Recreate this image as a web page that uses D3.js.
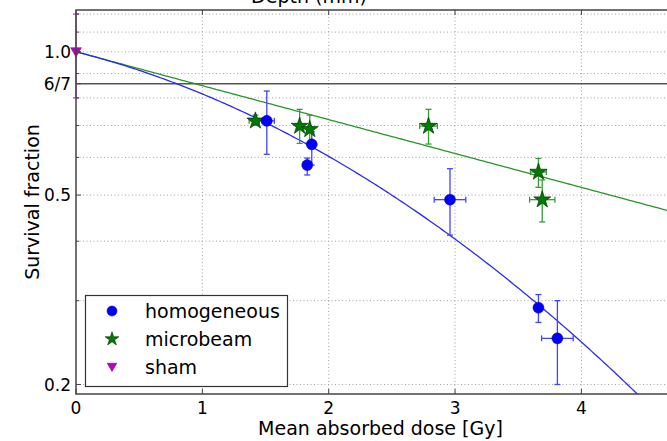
<!DOCTYPE html>
<html>
<head>
<meta charset="utf-8">
<script src="https://cdn.jsdelivr.net/npm/d3@7"></script>
<style>
  body { margin: 0; background: #fff; }
  svg { display: block; font-family: "DejaVu Sans", sans-serif; }
</style>
</head>
<body>
<svg width="667" height="441"></svg>
<script>
// homogeneous irradiation: dose, survival, errors
var homDose = [1.51, 1.866, 1.83, 2.96, 3.66, 3.81];
var homSurv = [0.716, 0.639, 0.578, 0.489, 0.290, 0.250];
var homYLo = [0.609, 0.578, 0.551, 0.412, 0.270, 0.200];
var homYHi = [0.827, 0.679, 0.598, 0.568, 0.309, 0.300];
var homXErr = [0.06, 0.02, 0.02, 0.125, 0.01, 0.125];

// microbeam irradiation
var mbDose = [1.42, 1.77, 1.85, 2.79, 3.66, 3.69];
var mbSurv = [0.716, 0.698, 0.687, 0.698, 0.559, 0.489];
var mbYLo = [0.701, 0.642, 0.642, 0.640, 0.519, 0.439];
var mbYHi = [0.736, 0.757, 0.736, 0.757, 0.597, 0.538];
var mbXErr = [0.05, 0.02, 0.02, 0.07, 0.063, 0.1];

// sham
var shamDose = [0];
var shamSurv = [1.0];
var shamYLo = [0.8];
var shamYHi = [1.2];

// fit parameters: S = exp(-a D - b D^2)
var homFit = { a: 0.155, b: 0.049 };
var mbFit = { a: 0.164, b: 0 };

var xTicks = [0, 1, 2, 3, 4];
var yTicks = [0.2, 0.5, 1.0];
var yTickLabels = ["0.2", "0.5", "1.0"];
var yMinor = [0.3, 0.4, 0.6, 0.7, 0.8, 0.9, 1.1, 1.2];
var refLevel = 6 / 7;

var svg = d3.select("svg");
var pLeft = 76, pRight = 685, pTop = 10, pBottom = 394;

var x = d3.scaleLinear().domain([0, 4.82]).range([pLeft, pRight]);
var y = d3.scaleLog().domain([0.191, 1.224]).range([pBottom, pTop]);

svg.append("defs").append("clipPath").attr("id", "plot")
  .append("rect").attr("x", pLeft).attr("y", pTop)
  .attr("width", pRight - pLeft).attr("height", pBottom - pTop);

// grid lines
var grid = svg.append("g").attr("stroke", "#a0a0a0").attr("stroke-width", 1)
  .attr("stroke-dasharray", "1,2.5");
grid.selectAll(".gx").data(xTicks.slice(1)).enter().append("line")
  .attr("x1", d => x(d)).attr("x2", d => x(d)).attr("y1", pTop).attr("y2", pBottom);
grid.selectAll(".gy").data(yTicks.concat(yMinor)).enter().append("line")
  .attr("x1", pLeft).attr("x2", pRight).attr("y1", d => y(d)).attr("y2", d => y(d));

// 6/7 reference line
svg.append("line").attr("x1", pLeft).attr("x2", pRight)
  .attr("y1", y(refLevel)).attr("y2", y(refLevel))
  .attr("stroke", "#555").attr("stroke-width", 1.5);

var plot = svg.append("g").attr("clip-path", "url(#plot)");

// fit curves
function fitLine(p) {
  var pts = d3.range(0, 4.821, 0.02).map(function (d) {
    return [d, Math.exp(-p.a * d - p.b * d * d)];
  });
  return d3.line().x(d => x(d[0])).y(d => y(d[1]))(pts);
}
plot.append("path").attr("d", fitLine(mbFit)).attr("fill", "none")
  .attr("stroke", "#2a962a").attr("stroke-width", 1.3);
plot.append("path").attr("d", fitLine(homFit)).attr("fill", "none")
  .attr("stroke", "#2b2bf5").attr("stroke-width", 1.3);

// error bars
function errorBars(g, xs, ys, lo, hi, xe, color) {
  var cap = 3;
  xs.forEach(function (d, i) {
    var cx = x(d), cy = y(ys[i]);
    g.append("line").attr("x1", cx).attr("x2", cx).attr("y1", y(lo[i])).attr("y2", y(hi[i]))
      .attr("stroke", color).attr("stroke-width", 1.3);
    [lo[i], hi[i]].forEach(function (v) {
      g.append("line").attr("x1", cx - cap).attr("x2", cx + cap).attr("y1", y(v)).attr("y2", y(v))
        .attr("stroke", color).attr("stroke-width", 1.3);
    });
    if (xe) {
      var x0 = x(d - xe[i]), x1 = x(d + xe[i]);
      g.append("line").attr("x1", x0).attr("x2", x1).attr("y1", cy).attr("y2", cy)
        .attr("stroke", color).attr("stroke-width", 1.3);
      [x0, x1].forEach(function (v) {
        g.append("line").attr("x1", v).attr("x2", v).attr("y1", cy - cap).attr("y2", cy + cap)
          .attr("stroke", color).attr("stroke-width", 1.3);
      });
    }
  });
}
errorBars(plot, mbDose, mbSurv, mbYLo, mbYHi, mbXErr, "#3a9a3a");
errorBars(plot, homDose, homSurv, homYLo, homYHi, homXErr, "#4444ff");
errorBars(svg.append("g"), shamDose, shamSurv, shamYLo, shamYHi, null, "#c040c0");

// markers
var star = d3.symbol().type(d3.symbolStar).size(90);
var tri = d3.symbol().type(d3.symbolTriangle).size(50);

plot.selectAll(".mb").data(mbDose).enter().append("path")
  .attr("d", star).attr("transform", (d, i) => "translate(" + x(d) + "," + y(mbSurv[i]) + ")")
  .attr("fill", "#007a00").attr("stroke", "#003300").attr("stroke-width", 0.7);
plot.selectAll(".hom").data(homDose).enter().append("circle")
  .attr("cx", d => x(d)).attr("cy", (d, i) => y(homSurv[i])).attr("r", 5.5)
  .attr("fill", "#0000ff").attr("stroke", "#000080").attr("stroke-width", 0.5);
svg.selectAll(".sham").data(shamDose).enter().append("path")
  .attr("d", tri).attr("transform", (d, i) => "translate(" + x(d) + "," + (y(shamSurv[i]) - 1) + ") rotate(180)")
  .attr("fill", "#bf00bf").attr("stroke", "#600060").attr("stroke-width", 0.5);

// frame
svg.append("rect").attr("x", pLeft).attr("y", pTop).attr("width", pRight - pLeft).attr("height", pBottom - pTop)
  .attr("fill", "none").attr("stroke", "#444").attr("stroke-width", 1.5);

// ticks (inward)
var ticks = svg.append("g").attr("stroke", "#444").attr("stroke-width", 1);
xTicks.forEach(function (d) {
  ticks.append("line").attr("x1", x(d)).attr("x2", x(d)).attr("y1", pBottom).attr("y2", pBottom - 5);
  ticks.append("line").attr("x1", x(d)).attr("x2", x(d)).attr("y1", pTop).attr("y2", pTop + 5);
});
yTicks.concat([refLevel]).forEach(function (d) {
  ticks.append("line").attr("x1", pLeft).attr("x2", pLeft + 5).attr("y1", y(d)).attr("y2", y(d));
});
yMinor.forEach(function (d) {
  ticks.append("line").attr("x1", pLeft).attr("x2", pLeft + 3).attr("y1", y(d)).attr("y2", y(d));
});

// tick labels
svg.selectAll(".xl").data(xTicks).enter().append("text")
  .attr("x", d => x(d)).attr("y", 414).attr("text-anchor", "middle")
  .attr("font-size", 17).text(d => d);
svg.selectAll(".yl").data(yTicks).enter().append("text")
  .attr("x", 71).attr("y", d => y(d)).attr("dy", "0.36em").attr("text-anchor", "end")
  .attr("font-size", 17).text((d, i) => yTickLabels[i]);
svg.append("text").attr("x", 71).attr("y", y(refLevel)).attr("dy", "0.36em")
  .attr("text-anchor", "end").attr("font-size", 17).text("6/7");

// axis labels
svg.append("text").attr("x", 380.5).attr("y", 435).attr("text-anchor", "middle")
  .attr("font-size", 19).text("Mean absorbed dose [Gy]");
svg.append("text").attr("transform", "translate(39,202) rotate(-90)")
  .attr("text-anchor", "middle").attr("font-size", 19).text("Survival fraction");
svg.append("text").attr("x", 309).attr("y", 3).attr("text-anchor", "middle")
  .attr("font-size", 19).text("Depth (mm)");

// legend
var lg = svg.append("g");
lg.append("rect").attr("x", 85.5).attr("y", 295.5).attr("width", 202).attr("height", 91)
  .attr("fill", "#fff").attr("stroke", "#333").attr("stroke-width", 1.2);
var legendNames = ["homogeneous", "microbeam", "sham"];
var legendY = [311, 339, 367];
legendNames.forEach(function (name, i) {
  var ly = legendY[i];
  if (i === 0) lg.append("circle").attr("cx", 112).attr("cy", ly).attr("r", 5)
    .attr("fill", "#0000ff").attr("stroke", "#000080").attr("stroke-width", 0.5);
  if (i === 1) lg.append("path").attr("d", d3.symbol().type(d3.symbolStar).size(60))
    .attr("transform", "translate(112," + ly + ")")
    .attr("fill", "#007a00").attr("stroke", "#003300").attr("stroke-width", 0.6);
  if (i === 2) lg.append("path").attr("d", d3.symbol().type(d3.symbolTriangle).size(40))
    .attr("transform", "translate(112," + (ly - 1) + ") rotate(180)")
    .attr("fill", "#bf00bf").attr("stroke", "#600060").attr("stroke-width", 0.5);
  lg.append("text").attr("x", 145).attr("y", ly).attr("dy", "0.36em")
    .attr("font-size", 19).text(name);
});
</script>
</body>
</html>
